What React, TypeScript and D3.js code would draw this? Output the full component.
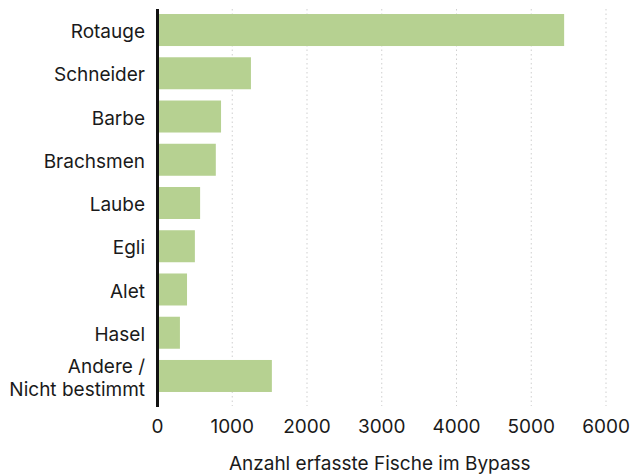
import React from "react";
import * as d3 from "d3";

const categories = ["Rotauge", "Schneider", "Barbe", "Brachsmen", "Laube", "Egli", "Alet", "Hasel", "Andere / Nicht bestimmt"];
const values = [5440, 1250, 850, 780, 570, 500, 395, 300, 1530];
const xTicks = [0, 1000, 2000, 3000, 4000, 5000, 6000];
const xTitle = "Anzahl erfasste Fische im Bypass";

const W = 644;
const H = 475;
const FONT = "Inter, 'Noto Sans', sans-serif";

export default function App() {
  const x = d3.scaleLinear().domain([0, 6000]).range([157.5, 606]);
  const y = d3
    .scaleBand<string>()
    .domain(categories)
    .range([8.4, 397.6])
    .paddingInner(0.26)
    .paddingOuter(0.13);

  return (
    <svg
      width={W}
      height={H}
      style={{ position: "absolute", left: 0, top: 0, background: "#fff" }}
      fontFamily={FONT}
    >
      {xTicks.slice(1).map((t) => (
        <line
          key={"g" + t}
          x1={x(t)}
          x2={x(t)}
          y1={9}
          y2={406}
          stroke="#cfcfcf"
          strokeWidth={1}
          strokeDasharray="1.5,3"
        />
      ))}
      {categories.map((c, i) => (
        <rect
          key={c}
          x={x(0)}
          y={y(c)}
          width={x(values[i]) - x(0)}
          height={y.bandwidth()}
          fill="#b6d191"
        />
      ))}
      <line x1={x(0)} x2={x(0)} y1={9} y2={407} stroke="#111" strokeWidth={3} />
      {categories.map((c) => {
        const parts = c === "Andere / Nicht bestimmt" ? ["Andere /", "Nicht bestimmt"] : [c];
        const cy = (y(c) as number) + y.bandwidth() / 2 + 1.2;
        const lh = 23;
        return (
          <text
            key={"l" + c}
            x={145}
            textAnchor="end"
            fontSize={19}
            fill="#1a1a1a"
          >
            {parts.map((p, j) => (
              <tspan
                key={j}
                x={145}
                y={cy + (j - (parts.length - 1) / 2) * lh}
                dy="0.36em"
              >
                {p}
              </tspan>
            ))}
          </text>
        );
      })}
      {xTicks.map((t) => (
        <text
          key={"t" + t}
          x={x(t)}
          y={426.3}
          dy="0.36em"
          textAnchor="middle"
          fontSize={19}
          fill="#1a1a1a"
        >
          {t}
        </text>
      ))}
      <text
        x={(x(0) + x(6000)) / 2 - 2}
        y={463.3}
        dy="0.36em"
        textAnchor="middle"
        fontSize={19}
        fill="#1a1a1a"
      >
        {xTitle}
      </text>
    </svg>
  );
}
